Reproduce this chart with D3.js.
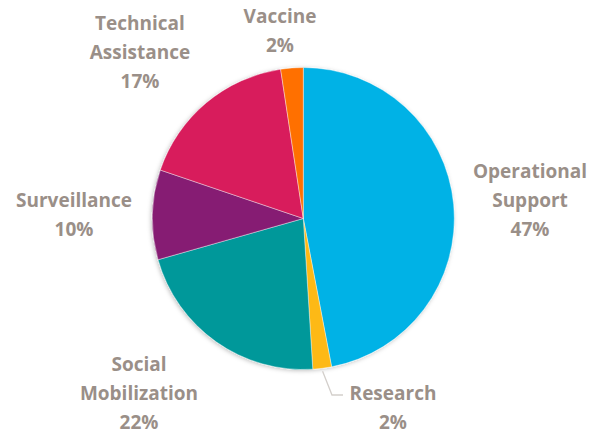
<!DOCTYPE html>
<html>
<head>
<meta charset="utf-8">
<script src="https://cdn.jsdelivr.net/npm/d3@7"></script>
<style>
  body { margin: 0; background: #fff; }
  svg text { font-family: "Open Sans", sans-serif; font-weight: 700; fill: #9a8f88; }
</style>
</head>
<body>
<div id="chart"></div>
<script>
// data
var categories = ["Operational Support", "Research", "Social Mobilization", "Surveillance", "Technical Assistance", "Vaccine"];
var shares = [47.0, 2.0, 21.6, 9.6, 17.4, 2.4];
var labelLines = [["Operational", "Support"], ["Research"], ["Social", "Mobilization"], ["Surveillance"], ["Technical", "Assistance"], ["Vaccine"]];
var colors = ["#00b2e6", "#fdb913", "#00989a", "#861f73", "#d81b5b", "#ff7000"];

// layout
var w = 602,
    h = 435,
    cx = 303.3,
    cy = 218.5,
    r = 151,
    lineH = 29;
// label anchor (center x, first baseline y) per slice
var labelAt = [[530, 178], [393, 400], [139, 371], [74, 207], [140, 30], [280, 23]];

var svg = d3.select("#chart")
    .append("svg")
    .attr("width", w)
    .attr("height", h);

var defs = svg.append("defs");
var f = defs.append("filter").attr("id", "shadow")
    .attr("x", "-10%").attr("y", "-10%").attr("width", "120%").attr("height", "120%");
f.append("feDropShadow")
    .attr("dx", -1).attr("dy", 1)
    .attr("stdDeviation", 2)
    .attr("flood-color", "#000")
    .attr("flood-opacity", 0.25);

var data = categories.map(function(c, i) {
    return { name: c, value: shares[i], color: colors[i], lines: labelLines[i], at: labelAt[i] };
});

var pie = d3.pie()
    .sort(null)
    .value(function(d) { return d.value; });

var arc = d3.arc()
    .innerRadius(0)
    .outerRadius(r);

var g = svg.append("g")
    .attr("transform", "translate(" + cx + "," + cy + ")");

var arcs = pie(data);

g.append("g")
    .attr("filter", "url(#shadow)")
    .selectAll("path")
    .data(arcs)
    .enter()
    .append("path")
    .attr("d", arc)
    .attr("fill", function(d) { return d.data.color; })
    .attr("stroke", "#fff")
    .attr("stroke-width", 0.4);

// leader line for the small Research slice
var edge = d3.arc().innerRadius(r + 3).outerRadius(r + 3);
var research = arcs[1];
var p0 = edge.centroid(research);
svg.append("polyline")
    .attr("points", [
        [cx + p0[0], cy + p0[1]],
        [332, 395],
        [343, 395]
    ].map(function(p) { return p.join(","); }).join(" "))
    .attr("fill", "none")
    .attr("stroke", "#d3cfcb")
    .attr("stroke-width", 1.3);

var labels = svg.selectAll(".lbl")
    .data(data)
    .enter()
    .append("text")
    .attr("class", "lbl")
    .attr("text-anchor", "middle")
    .style("font-size", "19px");

labels.each(function(d) {
    var t = d3.select(this);
    var lines = d.lines.concat([Math.round(d.value) + "%"]);
    lines.forEach(function(s, i) {
        t.append("tspan")
            .attr("x", d.at[0])
            .attr("y", d.at[1] + i * lineH)
            .text(s);
    });
});
</script>
</body>
</html>
